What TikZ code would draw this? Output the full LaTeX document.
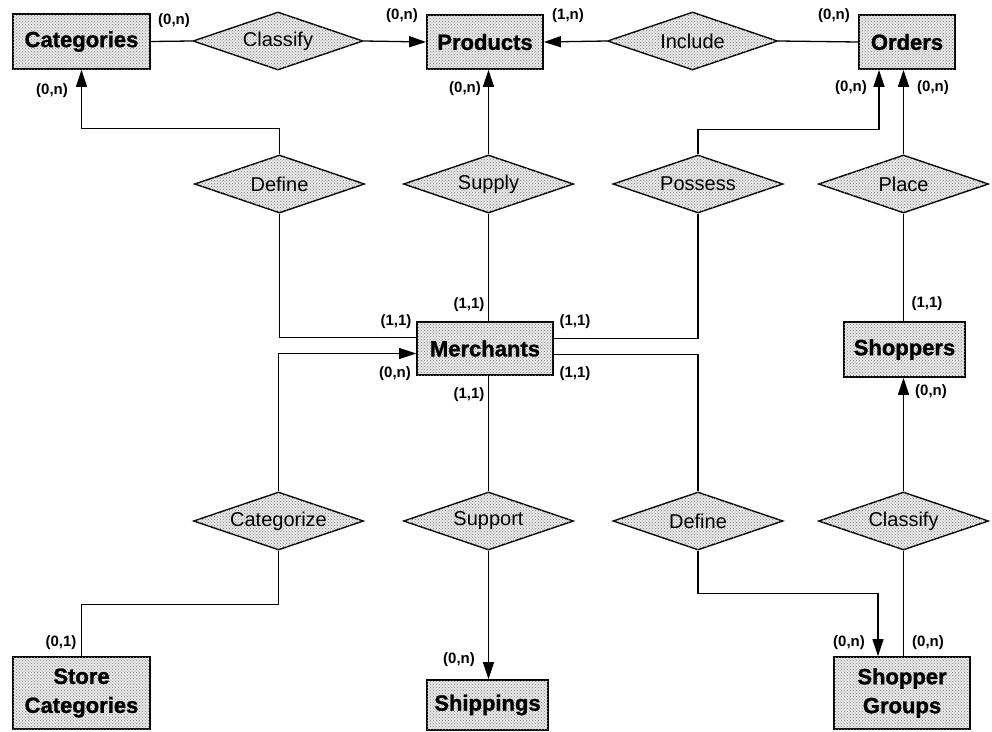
\documentclass[tikz,border=0pt]{standalone}
\usepackage{fontspec}
\setmainfont{Liberation Sans}
\newfontfamily\heavyfont[FakeBold=1.2]{Liberation Sans Bold}
\usetikzlibrary{shapes.geometric,arrows.meta,patterns}
\newcommand{\rel}[1]{\makebox[0pt]{#1}}
\tikzset{
  stipple/.style={fill=black!9, postaction={pattern=crosshatch dots, pattern color=black!50}},
  entity/.style={rectangle, draw, line width=1.8pt, stipple, inner sep=0pt,
    font=\fontsize{22}{29}\selectfont\heavyfont, align=center},
  relation/.style={diamond, draw, line width=1.4pt, stipple, inner sep=0pt,
    minimum width=170pt, minimum height=58pt, font=\fontsize{20}{22}\selectfont},
  card/.style={font=\fontsize{15}{16}\selectfont\bfseries, inner sep=0pt},
  link/.style={line width=1.3pt},
  arr/.style={link, -{Triangle[length=17pt,width=11pt]}}
}
\begin{document}
\begin{tikzpicture}[x=1pt,y=-1pt]
\useasboundingbox (0,0) rectangle (992,731);

% entities
\node[entity, minimum width=137pt, minimum height=55pt] (catg) at (81.5,41.5) {Categories};
\node[entity, minimum width=116pt, minimum height=54pt] (prod) at (485,42) {Products};
\node[entity, minimum width=96pt, minimum height=54pt] (ord) at (907,42) {Orders};
\node[entity, minimum width=136pt, minimum height=53pt] (merch) at (485,348.5) {Merchants};
\node[entity, minimum width=121pt, minimum height=55pt] (shop) at (904.5,349.5) {Shoppers};
\node[entity, minimum width=137pt, minimum height=72pt] (stc) at (81.5,693) {Store\\Categories};
\node[entity, minimum width=121pt, minimum height=50pt] (ship) at (487.5,705) {Shippings};
\node[entity, minimum width=136pt, minimum height=72pt] (sgrp) at (902,693) {Shopper\\Groups};

% relationships
\node[relation] (cls1) at (278,41) {\rel{Classify}};
\node[relation] (inc) at (692.5,41) {\rel{Include}};
\node[relation] (def1) at (279.5,184) {\rel{Define}};
\node[relation] (sup) at (488.5,184) {\rel{Supply}};
\node[relation] (poss) at (698,184) {\rel{Possess}};
\node[relation] (place) at (903.5,184) {\rel{Place}};
\node[relation] (catz) at (278.5,521) {\rel{Categorize}};
\node[relation] (supp) at (488.5,521) {\rel{Support}};
\node[relation] (def2) at (698,521) {\rel{Define}};
\node[relation] (cls2) at (903.5,521) {\rel{Classify}};

% top row
\draw[link] (catg.east) -- (cls1.west);
\draw[arr] (cls1.east) -- (prod.west);
\draw[arr] (inc.west) -- (prod.east);
\draw[link] (inc.east) -- (ord.west);

% Define (categories)
\draw[arr] (def1.north) -- ++(0,-26) -| (catg.south);
\draw[link] (def1.south) |- ([yshift=11pt]merch.west);

% Supply
\draw[arr] (sup.north) -- (sup.north |- prod.south);
\draw[link] (sup.south) -- (sup.south |- merch.north);

% Possess
\draw[arr] (poss.north) -- ++(0,-25) -| ([xshift=-28pt]ord.south);
\draw[link] (poss.south) |- ([yshift=10pt]merch.east);

% Place
\draw[arr] (place.north) -- (place.north |- ord.south);
\draw[link] (place.south) -- (place.south |- shop.north);

% Categorize
\draw[arr] (catz.north) |- ([yshift=-5pt]merch.west);
\draw[link] (catz.south) -- ++(0,54) -| (stc.north);

% Support
\draw[link] (supp.north) -- (supp.north |- merch.south);
\draw[arr] (supp.south) -- (supp.south |- ship.north);

% Define (shopper groups)
\draw[link] (def2.north) |- ([yshift=-6pt]merch.east);
\draw[arr] (def2.south) -- ++(0,43) -| ([xshift=-24pt]sgrp.north);

% Classify (shoppers)
\draw[arr] (cls2.north) -- (cls2.north |- shop.south);
\draw[link] (cls2.south) -- (cls2.south |- sgrp.north);

% cardinalities
\node[card] (c1) at (174,21) {(0,n)};
\node[card] (c2) at (402,16) {(0,n)};
\node[card] (c3) at (568,16) {(1,n)};
\node[card] (c4) at (834,16) {(0,n)};
\node[card] (c5) at (52,91) {(0,n)};
\node[card] (c6) at (465,89) {(0,n)};
\node[card] (c7) at (851,88) {(0,n)};
\node[card] (c8) at (933,88) {(0,n)};
\node[card] (c9) at (396,322) {(1,1)};
\node[card] (c10) at (469,305) {(1,1)};
\node[card] (c11) at (575,322) {(1,1)};
\node[card] (c12) at (395,374) {(0,n)};
\node[card] (c13) at (575,374) {(1,1)};
\node[card] (c14) at (469,395) {(1,1)};
\node[card] (c15) at (927,304) {(1,1)};
\node[card] (c16) at (931,392) {(0,n)};
\node[card] (c17) at (61,643) {(0,1)};
\node[card] (c18) at (459,660) {(0,n)};
\node[card] (c19) at (849,643) {(0,n)};
\node[card] (c20) at (928,643) {(0,n)};
\end{tikzpicture}
\end{document}
